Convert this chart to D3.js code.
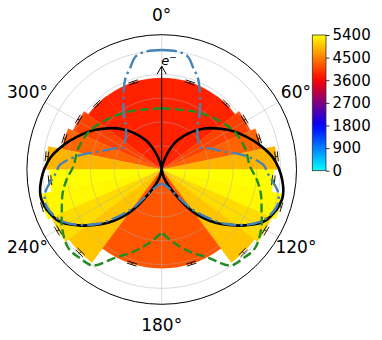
<!DOCTYPE html>
<html><head><meta charset="utf-8">
<script src="https://cdn.jsdelivr.net/npm/d3@7"></script>
<style>body{margin:0;background:#fff}svg{display:block}text{font-family:"DejaVu Sans",sans-serif}</style>
</head><body>
<svg id="c" width="382" height="340"></svg>
<script>
// ---- data ----
const binEdgesCos = [1, 0.8, 0.6, 0.4, 0.2, 0, -0.2, -0.4, -0.6, -0.8, -1];
const rates  = [3850, 3860, 4070, 4290, 4860, 4720, 5220, 5060, 4890, 4150];
const counts = [3830, 3850, 4060, 4290, 4880, 5400, 5350, 5150, 5000, 4200];
const errAngles = [18, 44.5, 59, 72.5, 83.5, 95.5, 107.5, 120.5, 135.5, 162.5];
const errors = [45, 45, 50, 50, 55, 55, 60, 55, 55, 45];
// curves: [angle deg, value]
const blackCurve = [[0,0],[10,210],[21,841],[29,1430],[44,2355],[59,3239],[69,3827],[76,4248],[84,4711],[95,5089],[104,5215],[116,4879],[124,4206],[130,3617],[135,3155],[143,2271],[152,1136],[165,336],[180,0]];
const blueCurve = [[0,5026],[8,5005],[13,4879],[17,4500],[22.3,4067],[31.9,3049],[43,2196],[52,1956],[60,1870],[66,2187],[73,2650],[80,3483],[87.3,4277],[92,4458],[101.5,5005],[108,5085],[118,4681],[130,3567],[142,2162],[152,1136],[165,715],[180,589]];
const greenCurve = [[0,2574],[28.5,2784],[45,3066],[61.5,3428],[75.5,3617],[88,3718],[96,4021],[104,4300],[113,4564],[120,4845],[130,5131],[137.4,5072],[144.5,4963],[152,4206],[161,3659],[170,3155],[180,2658]];
const radialTicks = [1000, 2000, 3000, 4000, 5000];
const angleTicks = [0, 60, 120, 180, 240, 300];
const colorTicks = [0, 900, 1800, 2700, 3600, 4500, 5400];
const rMax = 5670;
const arrowValue = 4350;

// ---- layout ----
const svg = d3.select("#c");
const cx = 161.7, cy = 169.5, R = 134.8;
const deg = Math.PI / 180;
const r = d3.scaleLinear().domain([0, rMax]).range([0, R]);
const cmap = d3.scaleLinear().domain([0, 1800, 3600, 5400])
  .range(["#00ffff", "#0000ff", "#ff0000", "#ffff00"]).clamp(true);

const g = svg.append("g").attr("transform", `translate(${cx},${cy})`);
const binAng = binEdgesCos.map(c => Math.acos(c));
const arc = d3.arc().innerRadius(0);

// bars
const barsG = g.append("g");
[1, -1].forEach(side => {
  rates.forEach((v, i) => {
    const a0 = binAng[i], a1 = binAng[i + 1];
    const s = side > 0 ? a0 : -a1, e = side > 0 ? a1 : -a0;
    const col = cmap(counts[i]);
    barsG.append("path")
      .attr("d", arc({outerRadius: r(v), startAngle: s, endAngle: e}))
      .attr("fill", col).attr("stroke", col).attr("stroke-width", 0.4);
  });
});

// grid
const gridG = g.append("g").attr("fill", "none").attr("stroke", "rgba(170,170,170,0.55)").attr("stroke-width", 0.8);
radialTicks.forEach(t => gridG.append("circle").attr("r", r(t)));
angleTicks.forEach(a => {
  gridG.append("line").attr("x1", 0).attr("y1", 0)
    .attr("x2", R * Math.sin(a * deg)).attr("y2", -R * Math.cos(a * deg));
});

// error bars
const errG = g.append("g").attr("stroke", "#000").attr("stroke-width", 0.9).attr("fill", "none");
[1, -1].forEach(side => {
  errAngles.forEach((a, i) => {
    const th = side * a * deg;
    const ux = Math.sin(th), uy = -Math.cos(th);
    const px = Math.cos(th), py = Math.sin(th);
    const lo = r(rates[i] - errors[i]), hi = r(rates[i] + errors[i]);
    errG.append("line").attr("x1", ux * lo).attr("y1", uy * lo).attr("x2", ux * hi).attr("y2", uy * hi);
    [lo, hi].forEach(rr => {
      const hw = 5;
      errG.append("line")
        .attr("x1", ux * rr - px * hw).attr("y1", uy * rr - py * hw)
        .attr("x2", ux * rr + px * hw).attr("y2", uy * rr + py * hw);
    });
  });
});

// curves
function drawCurve(pts, stroke, width, dash) {
  [1, -1].forEach(side => {
    const line = d3.lineRadial()
      .angle(d => side * d[0] * deg)
      .radius(d => r(d[1]))
      .curve(d3.curveCatmullRom.alpha(0.5));
    g.append("path").attr("d", line(pts))
      .attr("fill", "none").attr("stroke", stroke).attr("stroke-width", width)
      .attr("stroke-dasharray", dash);
  });
}
drawCurve(blackCurve, "#000", 2.6, null);
drawCurve(greenCurve, "#228b22", 2.4, "9,4");
drawCurve(blueCurve, "#4682b4", 2.4, "15,4,2.5,4");

// outer circle
g.append("circle").attr("r", R).attr("fill", "none").attr("stroke", "#000").attr("stroke-width", 1);

// arrow e-
const tip = -r(arrowValue);
g.append("line").attr("x1", 0).attr("y1", 0).attr("x2", 0).attr("y2", tip)
  .attr("stroke", "#000").attr("stroke-width", 1);
g.append("path").attr("d", `M-4.5,${tip + 8}L0,${tip}L4.5,${tip + 8}`)
  .attr("fill", "none").attr("stroke", "#000").attr("stroke-width", 1);
const et = g.append("text").attr("x", -0.5).attr("y", tip - 1).attr("font-size", 13);
et.append("tspan").attr("font-style", "italic").text("e");
et.append("tspan").attr("font-size", 9).attr("dy", -5).text("−");

// angle labels
angleTicks.forEach(a => {
  const rr = 155;
  g.append("text").attr("x", rr * Math.sin(a * deg)).attr("y", -rr * Math.cos(a * deg))
    .attr("dy", "0.36em").attr("text-anchor", "middle").attr("font-size", 17)
    .attr("fill", "#000").text(a + "°");
});

// colorbar
const cbX = 312.3, cbY = 35, cbW = 13.7, cbH = 135.7;
const defs = svg.append("defs");
const grad = defs.append("linearGradient").attr("id", "cb").attr("x1", 0).attr("y1", 1).attr("x2", 0).attr("y2", 0);
d3.range(0, 1.0001, 0.05).forEach(t => {
  grad.append("stop").attr("offset", t).attr("stop-color", cmap(t * 5400));
});
svg.append("rect").attr("x", cbX).attr("y", cbY).attr("width", cbW).attr("height", cbH)
  .attr("fill", "url(#cb)").attr("stroke", "#333").attr("stroke-width", 0.8);
const cbScale = d3.scaleLinear().domain([0, 5400]).range([cbY + cbH, cbY]);
const cbAxis = d3.axisRight(cbScale).tickValues(colorTicks).tickSize(3.5).tickPadding(3).tickFormat(d3.format("d"));
const ax = svg.append("g").attr("transform", `translate(${cbX + cbW},0)`).call(cbAxis);
ax.select(".domain").remove();
ax.selectAll("text").attr("font-size", 15).attr("font-family", "DejaVu Sans").attr("fill", "#000");
ax.selectAll("line").attr("stroke", "#000").attr("stroke-width", 0.8);
</script>
</body></html>
